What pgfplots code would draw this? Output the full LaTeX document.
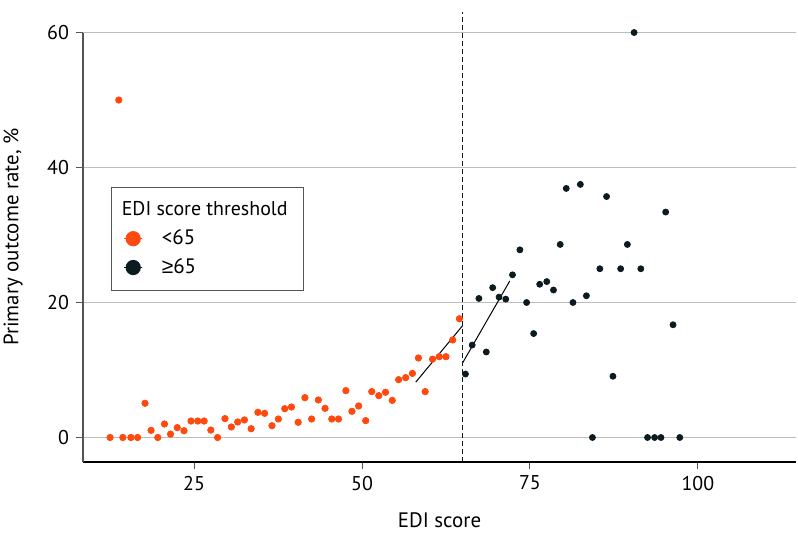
\documentclass[border=0pt]{standalone}
\usepackage{fontspec}
\setmainfont{PT Sans}
\newfontfamily\symfont{Liberation Sans}
\usepackage{pgfplots}
\pgfplotsset{compat=1.18}
\definecolor{lowc}{HTML}{FF4A0F}
\definecolor{highc}{HTML}{0B1B20}
\definecolor{gridc}{HTML}{BDBDBD}
\definecolor{axc}{HTML}{555555}

\begin{document}
\begin{tikzpicture}
\begin{axis}[
  scale only axis, width=356.5bp, height=225bp,
  xmin=8.47, xmax=114.6, ymin=-3.63, ymax=63.04,
  clip=false,
  axis x line*=bottom, axis y line*=left,
  y axis line style={draw=none},
  x axis line style={black, line width=0.6bp},
  xtick={25,50,75,100}, ytick={0,20,40,60},
  tick align=outside, major tick length=3.5bp,
  tick style={axc, line width=0.5bp},
  ymajorgrids, grid style={gridc, line width=0.8bp},
  ticklabel style={font=\fontsize{10}{12}\selectfont},
  /pgf/number format/assume math mode=true,
  xlabel={EDI score}, ylabel={Primary outcome rate, \%},
  label style={font=\fontsize{10.5}{12}\selectfont},
  xlabel style={at={(axis description cs:0.5,0)}, anchor=north, yshift=-25bp, inner sep=0pt},
  ylabel style={at={(axis description cs:0,0.5)}, anchor=north, yshift=40bp, inner sep=0pt},
  legend style={at={(axis cs:12.64,37.1)}, anchor=north west, draw=axc, line width=0.6bp,
    font=\fontsize{10.5}{12}\selectfont, row sep=1.5bp, inner xsep=6bp, inner ysep=5bp,
    /tikz/every odd column/.append style={column sep=7.5bp}},
  legend image code/.code={\path (0,0) rectangle (9bp,0); \draw[#1] plot coordinates {(4.5bp,0)};},
  legend cell align=left,
]
% <65 group
\addplot[only marks, mark=*, mark size=1.6bp, lowc, forget plot] coordinates {
(12.5,0)(13.8,50)(14.4,0)(15.6,0)(16.6,0)(17.7,5.07)(18.6,1.06)(19.6,0)(20.6,2.0)
(21.5,0.5)(22.5,1.46)(23.5,1.0)(24.55,2.44)(25.55,2.44)(26.5,2.44)(27.5,1.1)(28.5,0)
(29.6,2.8)(30.55,1.56)(31.5,2.3)(32.5,2.6)(33.5,1.3)(34.5,3.73)(35.5,3.58)(36.6,1.75)
(37.55,2.74)(38.5,4.27)(39.5,4.52)(40.5,2.25)(41.5,5.9)(42.5,2.74)(43.5,5.56)(44.5,4.32)
(45.5,2.74)(46.5,2.74)(47.6,6.94)(48.5,3.88)(49.5,4.67)(50.55,2.5)(51.45,6.8)(52.5,6.2)
(53.5,6.7)(54.5,5.5)(55.45,8.57)(56.5,8.87)(57.5,9.5)(58.4,11.78)(59.4,6.8)(60.5,11.6)
(61.5,11.97)(62.5,11.97)(63.5,14.45)(64.5,17.6)};
% >=65 group
\addplot[only marks, mark=*, mark size=1.5bp, highc, forget plot] coordinates {
(65.4,9.4)(66.4,13.7)(67.4,20.6)(68.5,12.67)(69.45,22.2)(70.4,20.8)(71.4,20.5)(72.4,24.1)
(73.5,27.8)(74.5,20.0)(75.55,15.4)(76.45,22.7)(77.5,23.1)(78.5,21.85)(79.5,28.6)(80.4,36.9)
(81.4,20.0)(82.5,37.5)(83.4,21.0)(84.3,0)(85.4,25.0)(86.4,35.7)(87.35,9.07)(88.5,25.0)
(89.5,28.6)(90.5,60.0)(91.5,25.0)(92.5,0)(93.55,0)(94.5,0)(95.2,33.4)(96.3,16.7)(97.3,0)};
% fitted segments
\addplot[black, line width=0.5bp, forget plot] coordinates {(58,8.2)(65,16.6)};
\addplot[black, line width=0.5bp, forget plot] coordinates {(65,11.1)(72,23.2)};
% threshold
\addplot[highc, dash pattern=on 2.5bp off 1.5bp, line width=0.5bp, forget plot]
  coordinates {(65,-3.63)(65,63.04)};
\draw[axc, line width=0.6bp] (axis cs:8.47,-3.63) -- (axis cs:8.47,60);
% legend
\addlegendimage{empty legend}
\addlegendentry{\hspace{-20bp}\fontsize{10}{12}\selectfont EDI score threshold\hspace{3bp}}
\addlegendimage{only marks, mark=*, mark size=3.5bp, lowc}
\addlegendentry{<65}
\addlegendimage{only marks, mark=*, mark size=3.5bp, highc}
\addlegendentry{{\symfont ≥}65}
\end{axis}
\pgfresetboundingbox
\path[use as bounding box] ([shift={(-41.5bp,-43bp)}]current axis.south west)
  rectangle ([shift={(1bp,6bp)}]current axis.north east);
\end{tikzpicture}
\end{document}
